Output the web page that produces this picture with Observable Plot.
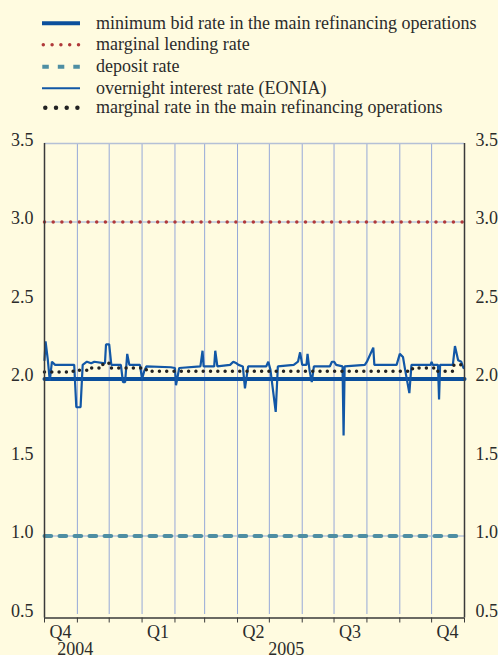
<!DOCTYPE html>
<html>
<head>
<meta charset="utf-8">
<script src="https://cdn.jsdelivr.net/npm/d3@7"></script>
<script src="https://cdn.jsdelivr.net/npm/@observablehq/plot@0.6"></script>
<style>
  html, body { margin: 0; padding: 0; background: #fffbe0; }
  #wrap { width: 498px; height: 655px; overflow: hidden; position: relative; background: #fffbe0; }
  svg { display: block; }
</style>
</head>
<body>
<div id="wrap"></div>
<script>
// ---------- data ----------
const seriesNames = [
  "minimum bid rate in the main refinancing operations",
  "marginal lending rate",
  "deposit rate",
  "overnight interest rate (EONIA)",
  "marginal rate in the main refinancing operations"
];

const rangeDates = ["2004-10-01", "2005-11-01"];
const minBidRate = [2.0, 2.0];
const marginalLendingRate = [3.0, 3.0];
const depositRate = [1.0, 1.0];

const eoniaDates = [
  "2004-10-01","2004-10-02","2004-10-04","2004-10-06","2004-10-08","2004-10-11","2004-10-29","2004-10-31",
  "2004-11-04","2004-11-06","2004-11-10","2004-11-14","2004-11-17","2004-11-27","2004-11-28","2004-12-01",
  "2004-12-03","2004-12-12","2004-12-14","2004-12-16","2004-12-18","2004-12-20","2004-12-30","2005-01-01",
  "2005-01-03","2005-01-05","2005-01-28","2005-02-01","2005-02-02","2005-02-05","2005-02-25","2005-02-27",
  "2005-02-28","2005-03-10","2005-03-11","2005-03-13","2005-03-25","2005-03-28","2005-03-31","2005-04-02",
  "2005-04-06","2005-04-08","2005-04-11","2005-04-28","2005-04-30","2005-05-02","2005-05-07","2005-05-09",
  "2005-05-24","2005-05-28","2005-05-30","2005-06-01","2005-06-05","2005-06-06","2005-06-08","2005-06-10",
  "2005-06-12","2005-06-27","2005-06-29","2005-07-01","2005-07-03","2005-07-09","2005-07-10","2005-07-11",
  "2005-07-30","2005-08-01","2005-08-07","2005-08-08","2005-08-29","2005-09-01","2005-09-04","2005-09-06",
  "2005-09-10","2005-09-12","2005-09-30","2005-10-01","2005-10-02","2005-10-07","2005-10-08","2005-10-09",
  "2005-10-21","2005-10-23","2005-10-26","2005-10-29","2005-10-31"
];
const eoniaValues = [
  2.12,2.24,2.13,1.99,2.11,2.09,2.09,1.82,
  1.82,2.09,2.11,2.10,2.11,2.10,2.22,2.22,
  2.09,2.09,1.98,1.98,2.16,2.09,2.09,2.00,
  2.05,2.08,2.075,2.07,1.96,2.07,2.08,2.18,
  2.08,2.08,2.18,2.08,2.09,2.11,2.10,2.09,
  2.08,1.94,2.08,2.08,2.11,2.06,1.79,2.08,
  2.09,2.11,2.17,2.09,2.09,2.16,2.05,1.98,
  2.08,2.08,2.11,2.11,2.09,2.08,1.64,2.08,
  2.09,2.11,2.20,2.09,2.09,2.16,2.14,2.06,
  1.91,2.09,2.09,2.11,2.09,2.09,1.87,2.09,
  2.09,2.21,2.12,2.11,2.07
];

const mroMarginalDates = ["2004-10-01","2004-10-28","2004-11-10","2004-11-25","2004-12-01","2005-01-05","2005-09-13","2005-10-03","2005-10-22","2005-10-29","2005-11-01"];
const mroMarginalValues = [2.045, 2.055, 2.07, 2.10, 2.07, 2.05, 2.07, 2.05, 2.09, 2.10, 2.10];

const yTicks = [0.5, 1.0, 1.5, 2.0, 2.5, 3.0, 3.5];
const quarterLabelDates = ["2004-10-16","2005-01-16","2005-04-16","2005-07-16","2005-10-16"];
const quarterLabels = ["Q4","Q1","Q2","Q3","Q4"];
const yearLabelDates = ["2004-10-30","2005-05-17"];
const yearLabels = ["2004","2005"];

// ---------- build ----------
const F = '"Liberation Serif", "Times New Roman", serif';
const parse = d3.utcParse("%Y-%m-%d");
const start = parse(rangeDates[0]), end = parse(rangeDates[1]);
const months = d3.utcMonth.range(start, d3.utcDay.offset(end, 1));

const flat = (dates, vals) => dates.map((d, i) => ({date: parse(d), value: vals[i]}));
const minBid = flat(rangeDates, minBidRate);
const lending = flat(rangeDates, marginalLendingRate);
const deposit = flat(rangeDates, depositRate);
const eonia = flat(eoniaDates, eoniaValues);
const mroMarg = flat(mroMarginalDates, mroMarginalValues);

const qMap = new Map(quarterLabelDates.map((d, i) => [+parse(d), quarterLabels[i]]));
const yMap = new Map(yearLabelDates.map((d, i) => [+parse(d), yearLabels[i]]));

const C = {
  minBid: "#0b4f9c",
  lending: "#b0393a",
  deposit: "#4e8ea3",
  eonia: "#1257a6",
  mro: "#222222",
  grid: "#96a8d8",
  under: "#b9c6dc",
  axis: "#3a3a3a",
  text: "#2b2b2b"
};

// legend (SVG above the chart)
const legendStyles = [
  {stroke: C.minBid, width: 4, dash: null, cap: "butt", x1: 42, x2: 80},
  {stroke: C.lending, width: 3.5, dash: "0 8.8", cap: "round", x1: 43.3, x2: 80},
  {stroke: C.deposit, width: 4, dash: "6.5 9", cap: "butt", x1: 42.3, x2: 80},
  {stroke: C.eonia, width: 2, dash: null, cap: "butt", x1: 42, x2: 80},
  {stroke: C.mro, width: 4.5, dash: "0 10.7", cap: "round", x1: 45.3, x2: 80}
];
const legendRowY = [23.3, 44.7, 66.7, 88.3, 107.7];

const wrap = d3.select("#wrap");
const leg = wrap.append("svg").attr("width", 498).attr("height", 125);
seriesNames.forEach((name, i) => {
  const s = legendStyles[i], cy = legendRowY[i];
  leg.append("line")
    .attr("x1", s.x1).attr("x2", s.x2).attr("y1", cy).attr("y2", cy)
    .attr("stroke", s.stroke).attr("stroke-width", s.width)
    .attr("stroke-linecap", s.cap)
    .attr("stroke-dasharray", s.dash);
  leg.append("text")
    .attr("x", 96).attr("y", cy + 5.2)
    .attr("font-family", F).attr("font-size", 18).attr("fill", C.text)
    .text(name);
});

const chart = Plot.plot({
  width: 498,
  height: 530,
  marginTop: 18,
  marginBottom: 41,
  marginLeft: 44,
  marginRight: 34,
  style: {background: "transparent", fontFamily: F, fontSize: "18px", color: C.text, overflow: "visible"},
  x: {type: "utc", domain: [start, end], label: null},
  y: {domain: [0.5, 3.5], label: null},
  marks: [
    Plot.ruleX(months, {stroke: C.grid, strokeWidth: 1}),
    Plot.ruleY([3.5], {stroke: "#b5c0d6", strokeWidth: 1.5}),
    // light base lines under the dotted / dashed rates
    Plot.lineY(lending, {x: "date", y: "value", stroke: C.under, strokeWidth: 1.5}),
    Plot.lineY(deposit, {x: "date", y: "value", stroke: C.under, strokeWidth: 1.5}),
    Plot.lineY(lending, {x: "date", y: "value", stroke: C.lending, strokeWidth: 3.5, strokeDasharray: "0 8.7", strokeLinecap: "round"}),
    Plot.lineY(deposit, {x: "date", y: "value", stroke: C.deposit, strokeWidth: 4, strokeDasharray: "6.7 8.3"}),
    Plot.lineY(minBid, {x: "date", y: "value", stroke: C.minBid, strokeWidth: 4}),
    Plot.lineY(eonia, {x: "date", y: "value", stroke: C.eonia, strokeWidth: 2.2, strokeLinejoin: "miter"}),
    Plot.lineY(mroMarg, {x: "date", y: "value", curve: "step-after", stroke: C.mro, strokeWidth: 3.5, strokeDasharray: "0 7.3", strokeLinecap: "round"}),
    // frame axes
    Plot.ruleX([start], {stroke: C.axis, strokeWidth: 1.5, insetBottom: -3.5}),
    Plot.ruleX([end], {stroke: C.axis, strokeWidth: 1.5, insetBottom: -3.5}),
    Plot.ruleY([0.5], {stroke: C.axis, strokeWidth: 1.3, dy: 3.5}),
    Plot.axisY({anchor: "left", ticks: yTicks, tickSize: 0, tickPadding: 11, tickFormat: d3.format(".1f"), dy: -3.5, label: null}),
    Plot.axisY({anchor: "right", ticks: yTicks, tickSize: 0, tickPadding: 11, tickFormat: d3.format(".1f"), dy: -3.5, label: null}),
    Plot.axisX({ticks: months, tickSize: 5, tickFormat: () => "", dy: 3.5, stroke: C.axis, label: null}),
    Plot.axisX({ticks: quarterLabelDates.map(parse), tickSize: 0, tickPadding: 11, tickFormat: d => qMap.get(+d), label: null}),
    Plot.axisX({ticks: yearLabelDates.map(parse), tickSize: 0, tickPadding: 27.5, tickFormat: d => yMap.get(+d), label: null})
  ]
});
wrap.node().appendChild(chart);
</script>
</body>
</html>
